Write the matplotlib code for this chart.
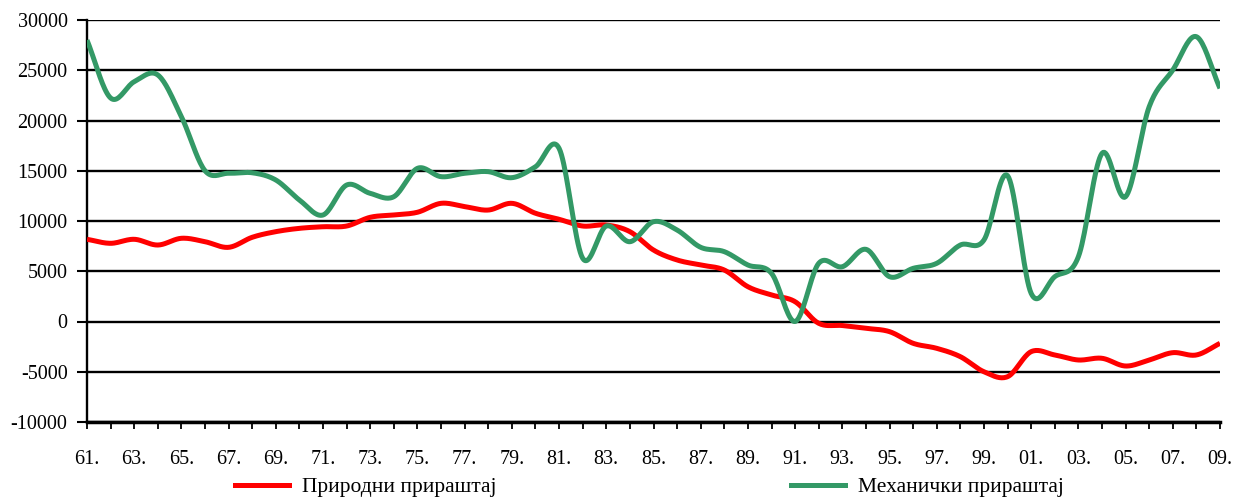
import numpy as np
import matplotlib
matplotlib.use("Agg")
import matplotlib.pyplot as plt
from matplotlib.lines import Line2D

years = list(range(1961, 2010))
natural = [8180, 7780, 8180, 7610, 8280, 7940, 7380, 8380, 8940, 9270,
           9430, 9500, 10370, 10600, 10870, 11760, 11430, 11090, 11760, 10770,
           10170, 9500, 9600, 8940, 7110, 6120, 5620, 5120, 3460, 2640,
           1970, -180, -400, -680, -1010, -2170, -2670, -3500, -5000, -5490,
           -3000, -3330, -3830, -3660, -4430, -3830, -3100, -3330, -2170]
mechanical = [28000, 22240, 23860, 24530, 20380, 15000, 14750, 14800, 14080, 12090,
              10600, 13580, 12750, 12420, 15240, 14410, 14750, 14910, 14310, 15400,
              17230, 6290, 9500, 7940, 9930, 9100, 7380, 6950, 5620, 4790,
              0, 5790, 5450, 7180, 4460, 5290, 5790, 7610, 8110, 14510,
              2800, 4460, 6450, 16730, 12420, 21370, 25020, 28340, 23200]
tick_years = list(range(1961, 2010, 2))
tick_labels = [f"{y % 100:02d}." for y in tick_years]
series_names = ["Природни прираштај", "Механички прираштај"]
colors = ["#FF0000", "#339966"]


def smooth(x, y, n=20):
    x = np.asarray(x, float)
    y = np.asarray(y, float)
    px = np.concatenate([[2 * x[0] - x[1]], x, [2 * x[-1] - x[-2]]])
    py = np.concatenate([[2 * y[0] - y[1]], y, [2 * y[-1] - y[-2]]])
    xs, ys = [], []
    t = np.linspace(0, 1, n, endpoint=False)
    for i in range(1, len(px) - 2):
        p0, p1, p2, p3 = px[i - 1:i + 3]
        q0, q1, q2, q3 = py[i - 1:i + 3]
        for (a0, a1, a2, a3, out) in ((p0, p1, p2, p3, xs), (q0, q1, q2, q3, ys)):
            out.append(0.5 * ((2 * a1) + (-a0 + a2) * t +
                              (2 * a0 - 5 * a1 + 4 * a2 - a3) * t ** 2 +
                              (-a0 + 3 * a1 - 3 * a2 + a3) * t ** 3))
    xs.append([x[-1]])
    ys.append([y[-1]])
    return np.concatenate(xs), np.concatenate(ys)


plt.rcParams['font.family'] = ['Liberation Serif', 'DejaVu Serif']
plt.rcParams['axes.unicode_minus'] = False
fig = plt.figure(figsize=(12.35, 4.99), dpi=100)
ax = fig.add_axes([87 / 1235, 1 - 422 / 499, (1220 - 87) / 1235, (422 - 20) / 499])

for vals, c in zip([natural, mechanical], colors):
    sx, sy = smooth(years, vals)
    ax.plot(sx, sy, color=c, lw=3.6, solid_capstyle='butt', zorder=3)

ax.set_xlim(1961, 2009)
ax.set_ylim(-10000, 30000)
ax.set_yticks(range(-10000, 30001, 5000))
ax.yaxis.grid(True, color='black', lw=1.7)
ax.set_axisbelow(True)
ax.set_xticks(years, minor=True)
ax.set_xticks(tick_years)
ax.set_xticklabels(tick_labels)
ax.tick_params(axis='x', which='both', direction='out', length=5, width=1.3, color='black')
ax.tick_params(axis='x', which='major', pad=15, labelsize=14.5)
ax.tick_params(axis='y', direction='out', length=7, width=1.5, labelsize=14.5, pad=7)
for s in ['top', 'right']:
    ax.spines[s].set_visible(False)
ax.spines['left'].set_linewidth(1.7)
ax.spines['bottom'].set_linewidth(2.5)

handles = [Line2D([], [], color=c, lw=3.6) for c in colors]
for h, name, xa in zip(handles, series_names, [235, 791]):
    fig.legend([h], [name], loc='center left', bbox_to_anchor=(xa / 1235, 1 - 487 / 499),
               frameon=False, fontsize=15.5, handlelength=2.5, handletextpad=0.6,
               borderpad=0, borderaxespad=0)

fig.savefig("out.png", dpi=100)
